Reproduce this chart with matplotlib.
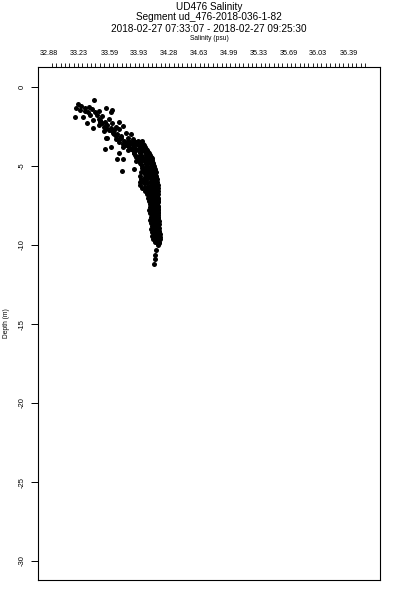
import numpy as np
import matplotlib
matplotlib.use("Agg")
import matplotlib.pyplot as plt

plt.rcParams['font.family'] = ['Liberation Sans Narrow', 'Liberation Sans', 'DejaVu Sans']

title_lines = ["UD476 Salinity",
               "Segment ud_476-2018-036-1-82",
               "2018-02-27 07:33:07 - 2018-02-27 09:25:30"]
xlabel = "Salinity (psu)"
ylabel = "Depth (m)"
xtick_labels = ["32.88", "33.23", "33.59", "33.93", "34.28", "34.63",
                "34.99", "35.33", "35.69", "36.03", "36.39"]
ytick_values = [0, -5, -10, -15, -20, -25, -30]

# scattered near-surface points (salinity, depth)
upper_sal = [33.41, 33.22, 33.26, 33.20, 33.30, 33.35, 33.38, 33.30, 33.24, 33.46,
             33.55, 33.62, 33.60, 33.34, 33.42, 33.18, 33.28, 33.36, 33.44, 33.50,
             33.32, 33.40, 33.48, 33.54, 33.58, 33.62, 33.46, 33.52, 33.60, 33.66,
             33.70, 33.74, 33.40, 33.52, 33.56, 33.63, 33.68, 33.72, 33.78, 33.80,
             33.76, 33.70, 33.66, 33.84, 33.86, 33.90, 33.82, 33.74, 33.60, 33.53,
             33.55, 33.88, 33.94, 33.80, 33.70, 33.68, 33.75, 33.88, 33.92, 33.98,
             33.73, 33.87, 33.90, 33.96, 33.58, 33.64, 33.70,
             33.46, 33.50, 33.56, 33.60, 33.55, 33.48, 33.66, 33.70, 33.74, 33.78,
             33.72, 33.64]
upper_dep = [-0.85, -1.10, -1.20, -1.30, -1.30, -1.25, -1.40, -1.50, -1.45, -1.50,
             -1.35, -1.45, -1.60, -1.60, -1.60, -1.90, -1.90, -1.80, -1.75, -1.85,
             -2.30, -2.10, -2.10, -2.20, -2.00, -2.30, -2.40, -2.50, -2.60, -2.50,
             -2.20, -2.45, -2.60, -2.80, -3.20, -2.90, -3.00, -3.10, -2.90, -3.20,
             -3.40, -3.50, -3.30, -3.00, -3.30, -3.50, -3.60, -3.80, -3.80, -3.90,
             -3.20, -3.90, -3.80, -4.00, -4.20, -4.56, -4.56, -4.20, -4.40, -4.00,
             -5.30, -5.20, -4.70, -4.70, -2.70, -2.75, -2.65,
             -2.00, -2.30, -2.40, -2.70, -2.60, -2.20, -3.10, -3.30, -3.60, -3.70,
             -3.20, -2.95]

# dense main band: depth of each row and the salinities read along it
band_rows_dep = [-3.4, -3.5, -3.6, -3.7, -3.8, -3.9, -4.0, -4.1, -4.2, -4.3,
                 -4.4, -4.5, -4.6, -4.7, -4.8, -4.9, -5.0, -5.1, -5.2, -5.3,
                 -5.4, -5.5, -5.6, -5.7, -5.8, -5.9, -6.0, -6.1, -6.2, -6.3,
                 -6.4, -6.5, -6.6, -6.7, -6.8, -6.9, -7.0, -7.1, -7.2, -7.3,
                 -7.4, -7.5, -7.6, -7.7, -7.8, -7.9, -8.0, -8.1, -8.2, -8.3,
                 -8.4, -8.5, -8.6, -8.7, -8.8, -8.9, -9.0, -9.1, -9.2, -9.3,
                 -9.4, -9.5, -9.6, -9.7, -9.8, -9.9, -10.0,
                 -10.3, -10.6, -10.9, -11.2]
band_rows_sal = [
    [33.80, 33.86, 33.92, 33.97], [33.83, 33.89, 33.95],
    [33.78, 33.85, 33.91, 33.98], [33.81, 33.87, 33.93, 33.99],
    [33.82, 33.88, 33.95, 34.00], [33.84, 33.90, 33.97, 34.02],
    [33.86, 33.92, 33.98, 34.03], [33.87, 33.94, 34.00, 34.04],
    [33.88, 33.95, 34.01, 34.05], [33.89, 33.96, 34.02, 34.06],
    [33.90, 33.97, 34.03, 34.07], [33.92, 33.98, 34.04, 34.08],
    [33.93, 33.99, 34.05, 34.09], [33.94, 34.00, 34.05, 34.09],
    [33.95, 34.01, 34.06, 34.10], [33.96, 34.02, 34.07, 34.10],
    [33.97, 34.03, 34.08, 34.11], [33.97, 34.02, 34.06, 34.11],
    [33.98, 34.04, 34.09, 34.12], [33.98, 34.03, 34.07, 34.12],
    [33.96, 34.05, 34.10, 34.13], [34.00, 34.03, 34.08, 34.12],
    [33.95, 34.06, 34.11, 34.13], [34.00, 34.04, 34.09, 34.13],
    [33.96, 34.07, 34.11, 34.14], [33.98, 34.02, 34.08, 34.13],
    [33.94, 34.06, 34.10, 34.14], [33.99, 34.03, 34.08, 34.13],
    [33.95, 34.07, 34.11, 34.15], [34.00, 34.04, 34.09, 34.14],
    [33.97, 34.08, 34.12, 34.15], [34.02, 34.05, 34.10, 34.14],
    [34.00, 34.08, 34.12, 34.15], [34.05, 34.11, 34.14],
    [34.03, 34.09, 34.13, 34.15], [34.06, 34.11, 34.14],
    [34.04, 34.09, 34.13, 34.16], [34.07, 34.11, 34.15],
    [34.05, 34.10, 34.14, 34.16], [34.08, 34.12, 34.15],
    [34.06, 34.10, 34.14], [34.08, 34.12, 34.16],
    [34.06, 34.11, 34.15], [34.08, 34.13, 34.16],
    [34.05, 34.10, 34.15], [34.08, 34.13, 34.16],
    [34.06, 34.11, 34.15], [34.09, 34.13, 34.16],
    [34.07, 34.11, 34.15], [34.09, 34.13, 34.15],
    [34.06, 34.11, 34.16], [34.09, 34.14, 34.17],
    [34.07, 34.12, 34.16], [34.10, 34.14, 34.17],
    [34.08, 34.12, 34.16], [34.10, 34.14, 34.17],
    [34.07, 34.12, 34.16], [34.10, 34.14, 34.17],
    [34.08, 34.13, 34.17], [34.11, 34.15, 34.18],
    [34.09, 34.13, 34.17], [34.12, 34.15, 34.18],
    [34.10, 34.14, 34.18], [34.13, 34.16],
    [34.12, 34.17], [34.15, 34.17],
    [34.16],
    [34.13], [34.12], [34.12], [34.11]]

band_sal = [s for row in band_rows_sal for s in row]
band_dep = [d for d, row in zip(band_rows_dep, band_rows_sal) for _ in row]

salinity = upper_sal + band_sal
depth = upper_dep + band_dep

fig = plt.figure(figsize=(4, 6), dpi=100)
ax = fig.add_axes([0.095, 0.0333, 0.855, 0.855])
ax.plot(salinity, depth, 'o', color='black', ms=3.6, mec='black', mew=0)

ax.set_xlim(32.751, 36.753)
ax.set_ylim(-31.2, 1.266)

for s in ax.spines.values():
    s.set_linewidth(0.8)

ax.xaxis.set_ticks_position('top')
ax.set_xticks([float(v) for v in xtick_labels])
ax.set_xticklabels(xtick_labels, fontsize=5.2)
ax.tick_params(axis='x', which='major', length=0, pad=7.2)
ax.set_xticks(np.linspace(32.915, 36.577, 73), minor=True)
ax.tick_params(axis='x', which='minor', length=3, width=0.6, direction='out', top=True, bottom=False)

ax.set_yticks(ytick_values)
ax.set_yticklabels([str(v) for v in ytick_values], fontsize=5.5, rotation=90, va='center')
ax.tick_params(axis='y', which='major', length=5, width=0.7, direction='out', pad=4)

fig.text(0.5225, 1 - 7/600, title_lines[0], ha='center', va='center', fontsize=7.2)
fig.text(0.5225, 1 - 17.5/600, title_lines[1], ha='center', va='center', fontsize=7.2)
fig.text(0.5225, 1 - 28.5/600, title_lines[2], ha='center', va='center', fontsize=7.2)
fig.text(0.5225, 1 - 38.5/600, xlabel, ha='center', va='center', fontsize=4.8)
fig.text(6/400, 1 - 323/600, ylabel, ha='center', va='center', rotation=90, fontsize=4.8)

fig.savefig("out.png", dpi=100)
